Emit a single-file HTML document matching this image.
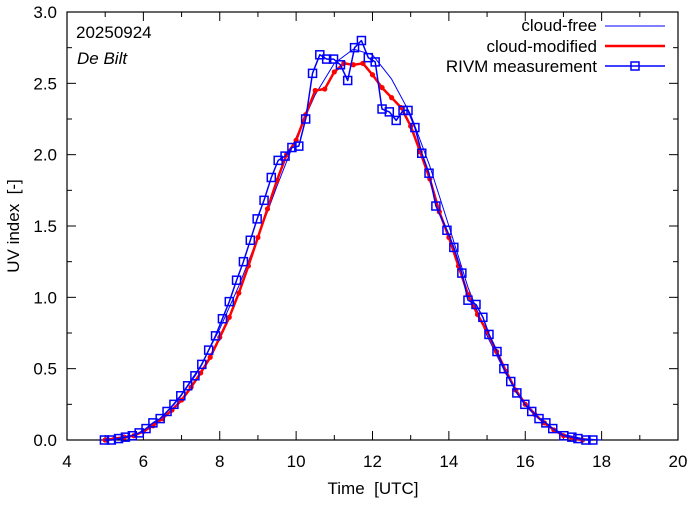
<!DOCTYPE html>
<html><head><meta charset="utf-8"><style>
body{margin:0;background:#fff}
svg text{font-family:"Liberation Sans",sans-serif;font-size:17px;fill:#000}
</style></head><body>
<svg id="chart" width="694" height="501" xmlns="http://www.w3.org/2000/svg">
<g id="axes"></g>
<g id="series"></g>
<text x="76" y="38">20250924</text>
<text x="77" y="64" font-style="italic">De Bilt</text>
<text x="373" y="494" text-anchor="middle">Time&#160; [UTC]</text>
<text transform="translate(19,226) rotate(-90)" text-anchor="middle">UV index&#160; [-]</text>
<g>
<text x="597" y="31" text-anchor="end">cloud-free</text>
<line x1="605" y1="26" x2="665" y2="26" stroke="#0000ff" stroke-width="1"/>
<text x="597" y="52" text-anchor="end">cloud-modified</text>
<line x1="605" y1="46" x2="665" y2="46" stroke="#ff0000" stroke-width="2.5"/>
<text x="597" y="72" text-anchor="end">RIVM measurement</text>
<line x1="605" y1="66" x2="665" y2="66" stroke="#0000ff" stroke-width="1.5"/>
<rect x="631" y="62" width="8" height="8" fill="none" stroke="#0000ff" stroke-width="1.5"/>
</g>
</svg>
<script>
const xTicks=[4,6,8,10,12,14,16,18,20];
const yTicks=[0,0.5,1,1.5,2,2.5,3];
const yTickLabels=["0.0","0.5","1.0","1.5","2.0","2.5","3.0"];
const clearTimes=[5,5.5,6,6.5,7,7.5,8,8.5,9,9.5,10,10.5,11,11.5,12,12.5,13,13.5,14,14.5,15,15.5,16,16.5,17,17.5,18];
const clearValues=[0,0.01,0.06,0.16,0.32,0.52,0.78,1.08,1.42,1.78,2.12,2.42,2.64,2.74,2.7,2.53,2.28,1.92,1.5,1.07,0.73,0.46,0.26,0.12,0.04,0.01,0];
const cloudTimes=[5,5.25,5.5,5.75,6,6.25,6.5,6.75,7,7.25,7.5,7.75,8,8.25,8.5,8.75,9,9.25,9.5,9.75,10,10.25,10.5,10.75,11,11.25,11.5,11.75,12,12.25,12.5,12.75,13,13.25,13.5,13.75,14,14.25,14.5,14.75,15,15.25,15.5,15.75,16,16.25,16.5,16.75,17,17.25,17.5];
const cloudValues=[0,0.01,0.02,0.03,0.06,0.1,0.15,0.21,0.28,0.37,0.47,0.58,0.72,0.86,1.03,1.22,1.42,1.62,1.82,2.0,2.1,2.28,2.45,2.46,2.58,2.64,2.63,2.64,2.56,2.47,2.4,2.33,2.2,2.02,1.83,1.6,1.42,1.22,1.02,0.88,0.76,0.62,0.48,0.35,0.25,0.18,0.12,0.07,0.03,0.01,0];
const measTimes=[4.98,5.16,5.35,5.53,5.71,5.89,6.07,6.25,6.44,6.62,6.8,6.98,7.16,7.35,7.53,7.71,7.89,8.07,8.25,8.44,8.62,8.8,8.98,9.16,9.35,9.53,9.71,9.89,10.07,10.25,10.43,10.62,10.8,10.98,11.16,11.35,11.53,11.71,11.89,12.07,12.25,12.44,12.62,12.8,12.93,13.11,13.29,13.48,13.66,13.95,14.13,14.34,14.5,14.71,14.89,15.05,15.26,15.44,15.62,15.78,15.99,16.17,16.36,16.54,16.72,17.01,17.22,17.38,17.59,17.77];
const measValues=[0,0,0.01,0.02,0.03,0.05,0.08,0.12,0.15,0.2,0.25,0.31,0.38,0.45,0.53,0.63,0.73,0.85,0.97,1.12,1.25,1.4,1.55,1.68,1.84,1.96,1.99,2.05,2.06,2.25,2.57,2.7,2.67,2.67,2.63,2.52,2.75,2.8,2.68,2.65,2.32,2.3,2.24,2.31,2.31,2.19,2.01,1.87,1.64,1.47,1.35,1.17,0.98,0.95,0.86,0.74,0.62,0.5,0.41,0.33,0.25,0.2,0.15,0.12,0.08,0.03,0.02,0.01,0,0];

const X0=67,X1=678,Y0=440,Y1=12;
const sx=t=>X0+(t-4)/16*(X1-X0);
const sy=v=>Y0-v/3*(Y0-Y1);
const NS="http://www.w3.org/2000/svg";
function mk(tag,attrs,parent){const e=document.createElementNS(NS,tag);for(const k in attrs)e.setAttribute(k,attrs[k]);parent.appendChild(e);return e;}
const axes=document.getElementById('axes'),series=document.getElementById('series');
const frame=mk('rect',{x:X0,y:Y1,width:X1-X0,height:Y0-Y1,fill:'none',stroke:'#000','stroke-width':1.2},axes);


for(let h=5;h<20;h+=2){mk('line',{x1:sx(h),x2:sx(h),y1:Y0,y2:Y0-5,stroke:'#000'},axes);mk('line',{x1:sx(h),x2:sx(h),y1:Y1,y2:Y1+5,stroke:'#000'},axes);}
xTicks.forEach(t=>{
 mk('line',{x1:sx(t),x2:sx(t),y1:Y0,y2:Y0-9,stroke:'#000'},axes);
 mk('line',{x1:sx(t),x2:sx(t),y1:Y1,y2:Y1+9,stroke:'#000'},axes);
 const tx=mk('text',{x:sx(t),y:Y0+27,'text-anchor':'middle'},axes);tx.textContent=t;
 
 
});
for(let v=0.25;v<3;v+=0.5){mk('line',{x1:X0,x2:X0+5,y1:sy(v),y2:sy(v),stroke:'#000'},axes);mk('line',{x1:X1,x2:X1-5,y1:sy(v),y2:sy(v),stroke:'#000'},axes);}
yTicks.forEach((v,i)=>{
 mk('line',{x1:X0,x2:X0+9,y1:sy(v),y2:sy(v),stroke:'#000'},axes);
 mk('line',{x1:X1,x2:X1-9,y1:sy(v),y2:sy(v),stroke:'#000'},axes);
 const tx=mk('text',{x:X0-10,y:sy(v)+6,'text-anchor':'end'},axes);tx.textContent=yTickLabels[i];
 
 
});
function pts(ts,vs){return ts.map((t,i)=>sx(t).toFixed(1)+','+sy(vs[i]).toFixed(1)).join(' ');}
const cf=mk('polyline',{points:pts(clearTimes,clearValues),fill:'none',stroke:'#0000ff','stroke-width':1,'stroke-linejoin':'round'},series);


const cm=mk('polyline',{points:pts(cloudTimes,cloudValues),fill:'none',stroke:'#ff0000','stroke-width':2.5,'stroke-linejoin':'round'},series);


cloudTimes.forEach((t,i)=>{const c=mk('circle',{cx:sx(t),cy:sy(cloudValues[i]),r:2.6,fill:'#ff0000'},series);
 
 });
const ml=mk('polyline',{points:pts(measTimes,measValues),fill:'none',stroke:'#0000ff','stroke-width':1.5,'stroke-linejoin':'round'},series);


measTimes.forEach((t,i)=>{const r=mk('rect',{x:sx(t)-4,y:sy(measValues[i])-4,width:8,height:8,fill:'none',stroke:'#0000ff','stroke-width':1.5},series);
 
 });
</script>
</body></html>
